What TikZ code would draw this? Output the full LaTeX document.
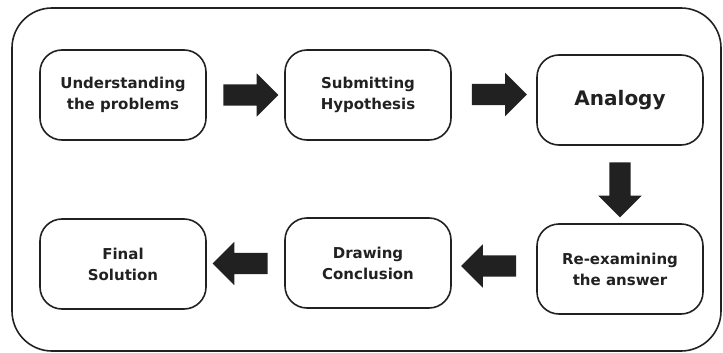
\documentclass[tikz,border=0pt]{standalone}
\usepackage{fontspec}
\setmainfont{DejaVu Sans}
\usetikzlibrary{positioning}
\usetikzlibrary{shapes.arrows}
\usetikzlibrary{calc}
\definecolor{ink}{rgb}{0.13,0.13,0.13}

\begin{document}
\begin{tikzpicture}[
  x = 1pt, y = -1pt,
  frame/.style = {draw=ink, line width=1.6pt, rounded corners=40pt},
  stage/.style = {draw=ink, line width=1.6pt, rounded corners=22pt,
    minimum width=166pt, minimum height=90pt, align=center,
    text=ink, font=\fontsize{15}{21}\selectfont\bfseries},
  blockarrow/.style = {single arrow, fill=ink, draw=none,
    inner sep=10.5pt, single arrow head extend=11pt,
    minimum height=55pt},
]

  \useasboundingbox (0,0) rectangle (723,353);

  % outer frame
  \draw[frame] (12,8) rectangle (721,351);

  % top row
  \node[stage] (understand) at (123,95) {Understanding\\the problems};
  \node[stage] (hypothesis) at (368,95) {Submitting\\Hypothesis};
  \node[stage, font=\fontsize{20}{24}\selectfont\bfseries]
    (analogy) at (620,100) {Analogy};

  % bottom row
  \node[stage] (reexamine) at (620,269) {Re-examining\\the answer};
  \node[stage] (conclusion) at (368,263) {Drawing\\Conclusion};
  \node[stage] (solution) at (123,264) {Final\\Solution};

  % block arrows
  \node[blockarrow] (a1) at ($(understand.east)!0.5!(hypothesis.west)$) {};
  \node[blockarrow] (a2) at ($(hypothesis.east)!0.5!(analogy.west)+(0,-3)$) {};
  \node[blockarrow, shape border rotate=270]
    (a3) at ($(analogy.south)!0.5!(reexamine.north)$) {};
  \node[blockarrow, shape border rotate=180]
    (a4) at ($(reexamine.west)!0.5!(conclusion.east)$) {};
  \node[blockarrow, shape border rotate=180]
    (a5) at ($(conclusion.west)!0.5!(solution.east)$) {};

\end{tikzpicture}
\end{document}
